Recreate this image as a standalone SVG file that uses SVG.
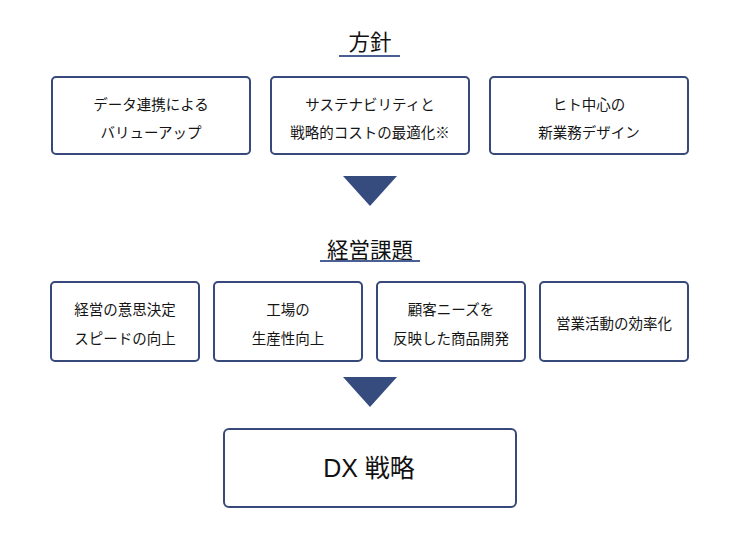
<svg xmlns="http://www.w3.org/2000/svg" width="740" height="539" viewBox="0 0 740 539">
<style>
.box{fill:#fff;stroke:#36497a;stroke-width:2}
.t{font-family:"Noto Sans CJK JP","Noto Sans",sans-serif;font-size:14.5px;fill:#151515;text-anchor:middle;dominant-baseline:central}
.h{font-family:"Noto Sans CJK JP","Noto Sans",sans-serif;font-size:21.5px;fill:#111;text-anchor:middle;dominant-baseline:central}
.dx{font-family:"Liberation Sans","Noto Sans CJK JP",sans-serif;font-size:25px;fill:#111;text-anchor:middle;dominant-baseline:central}
.u{stroke:#4a5f93;stroke-width:2}
.arr{fill:#364c7f}
</style>
<rect width="740" height="539" fill="#fff"/>
<g id="title-policy">
<text class="h" x="370" y="40">方針</text>
<line class="u" x1="339" y1="56" x2="400" y2="56"/>
</g>
<g id="p1"><rect class="box" x="52" y="77" width="198" height="77" rx="4"/>
<text class="t" x="151" y="103">データ連携による</text><text class="t" x="151" y="131">バリューアップ</text></g>
<g id="p2"><rect class="box" x="271" y="77" width="198" height="77" rx="4"/>
<text class="t" x="370" y="103">サステナビリティと</text><text class="t" x="370" y="131">戦略的コストの最適化※</text></g>
<g id="p3"><rect class="box" x="490" y="77" width="198" height="77" rx="4"/>
<text class="t" x="589" y="103">ヒト中心の</text><text class="t" x="589" y="131">新業務デザイン</text></g>
<g id="title-issues">
<text class="h" x="370" y="248">経営課題</text>
<line class="u" x1="320" y1="261" x2="420" y2="261"/>
</g>
<g id="i1"><rect class="box" x="51" y="282" width="148" height="79" rx="4"/>
<text class="t" x="125" y="308">経営の意思決定</text><text class="t" x="125" y="337">スピードの向上</text></g>
<g id="i2"><rect class="box" x="214" y="282" width="148" height="79" rx="4"/>
<text class="t" x="288" y="308">工場の</text><text class="t" x="288" y="337">生産性向上</text></g>
<g id="i3"><rect class="box" x="377" y="282" width="148" height="79" rx="4"/>
<text class="t" x="451" y="308">顧客ニーズを</text><text class="t" x="451" y="337">反映した商品開発</text></g>
<g id="i4"><rect class="box" x="540" y="282" width="148" height="79" rx="4"/>
<text class="t" x="614" y="322">営業活動の効率化</text></g>
<g id="dx"><rect class="box" x="224" y="429" width="292" height="78" rx="5"/>
<text class="dx" x="369" y="468">DX 戦略</text></g>
<g id="connectors">
<polygon class="arr" points="343,176 397,176 370,206"/>
<polygon class="arr" points="343,377 397,377 370,407"/>
</g>
</svg>
